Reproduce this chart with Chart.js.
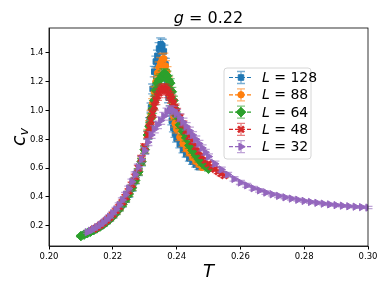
<!DOCTYPE html>
<html>
<head>
<meta charset="utf-8">
<script src="https://cdn.jsdelivr.net/npm/chart.js@4.4.1/dist/chart.umd.min.js"></script>
<style>
  body { margin: 0; background: #fff; }
  canvas { display: block; }
</style>
</head>
<body>
<canvas id="cv" width="386" height="290"></canvas>
<script>
// specific heat c_v vs T for several lattice sizes, g = 0.22
var t128 = [0.211,0.212,0.213,0.214,0.215,0.216,0.217,0.218,0.219,0.220,0.221,0.222,0.223,0.224,0.225,0.226,0.227,0.228,0.229,0.230,
  0.231,0.2315,0.232,0.2325,0.233,0.2335,0.234,0.2345,0.235,0.2355,0.236,0.2365,0.237,0.2375,0.238,0.2385,0.239,0.2395,
  0.240,0.241,0.242,0.243,0.244,0.245,0.246,0.247];
var c128 = [0.138,0.148,0.158,0.169,0.182,0.195,0.210,0.227,0.246,0.268,0.292,0.318,0.347,0.380,0.417,0.460,0.510,0.570,0.640,0.725,
  0.830,0.92,1.02,1.15,1.27,1.34,1.38,1.43,1.46,1.45,1.41,1.32,1.20,1.09,1.00,0.93,0.88,0.84,
  0.805,0.765,0.728,0.697,0.668,0.645,0.625,0.607];
var e128 = [0.008,0.008,0.009,0.009,0.010,0.010,0.011,0.012,0.012,0.013,0.014,0.015,0.016,0.017,0.018,0.019,0.020,0.022,0.024,0.026,
  0.028,0.030,0.032,0.034,0.036,0.038,0.040,0.042,0.044,0.045,0.044,0.042,0.040,0.036,0.032,0.030,0.028,0.026,
  0.025,0.024,0.022,0.021,0.020,0.019,0.018,0.017];

var t88 = [0.212,0.213,0.214,0.215,0.216,0.217,0.218,0.219,0.220,0.221,0.222,0.223,0.224,0.225,0.226,0.227,0.228,0.229,0.230,
  0.231,0.2315,0.232,0.2325,0.233,0.2335,0.234,0.2345,0.235,0.2355,0.236,0.2365,0.237,0.2375,0.238,0.2385,0.239,0.2395,
  0.240,0.241,0.242,0.243,0.244,0.245,0.246,0.247,0.248];
var c88 = [0.150,0.160,0.171,0.184,0.197,0.212,0.229,0.248,0.270,0.294,0.320,0.350,0.384,0.421,0.464,0.515,0.575,0.645,0.730,
  0.840,0.90,0.97,1.05,1.13,1.20,1.26,1.30,1.33,1.355,1.36,1.31,1.27,1.20,1.11,1.02,0.96,0.91,
  0.870,0.815,0.772,0.735,0.705,0.675,0.648,0.625,0.605];
var e88 = [0.008,0.009,0.009,0.010,0.010,0.011,0.012,0.012,0.013,0.014,0.015,0.016,0.017,0.018,0.019,0.020,0.022,0.024,0.026,
  0.028,0.029,0.030,0.032,0.034,0.035,0.036,0.037,0.038,0.038,0.038,0.036,0.035,0.033,0.031,0.029,0.027,0.026,
  0.025,0.024,0.022,0.021,0.020,0.019,0.018,0.017,0.016];

var t64 = [0.210,0.211,0.212,0.213,0.214,0.215,0.216,0.217,0.218,0.219,0.220,0.221,0.222,0.223,0.224,0.225,0.226,0.227,0.228,0.229,0.230,
  0.231,0.2315,0.232,0.2325,0.233,0.2335,0.234,0.2345,0.235,0.2355,0.236,0.2365,0.237,0.2375,0.238,0.2385,0.239,0.2395,
  0.240,0.241,0.242,0.243,0.244,0.245,0.246,0.247,0.248,0.249,0.250];
var c64 = [0.128,0.138,0.148,0.158,0.169,0.181,0.194,0.209,0.226,0.245,0.267,0.291,0.318,0.348,0.382,0.420,0.463,0.514,0.574,0.644,0.728,
  0.830,0.89,0.95,1.01,1.07,1.14,1.19,1.21,1.22,1.24,1.255,1.25,1.24,1.21,1.19,1.13,1.07,1.01,
  0.965,0.900,0.855,0.810,0.758,0.722,0.690,0.660,0.635,0.615,0.595];
var e64 = [0.007,0.008,0.008,0.009,0.009,0.010,0.010,0.011,0.012,0.012,0.013,0.014,0.015,0.016,0.017,0.018,0.019,0.020,0.022,0.024,0.026,
  0.027,0.028,0.029,0.030,0.031,0.032,0.033,0.034,0.034,0.035,0.035,0.035,0.034,0.033,0.032,0.030,0.029,0.027,
  0.026,0.025,0.024,0.022,0.021,0.020,0.019,0.018,0.017,0.016,0.016];

var t48 = [0.214,0.215,0.216,0.217,0.218,0.219,0.220,0.221,0.222,0.223,0.224,0.225,0.226,0.227,0.228,0.229,0.230,
  0.231,0.2315,0.232,0.2325,0.233,0.2335,0.234,0.2345,0.235,0.2355,0.236,0.2365,0.237,0.2375,0.238,0.2385,0.239,0.2395,
  0.240,0.241,0.242,0.243,0.244,0.245,0.246,0.247,0.248,0.249,0.250,0.251,0.252,0.253,0.254,0.255];
var c48 = [0.176,0.189,0.203,0.219,0.237,0.257,0.279,0.304,0.332,0.364,0.400,0.440,0.486,0.540,0.600,0.668,0.748,
  0.830,0.88,0.93,0.98,1.03,1.07,1.10,1.12,1.14,1.15,1.155,1.15,1.14,1.12,1.10,1.08,1.05,1.02,
  0.990,0.950,0.905,0.862,0.822,0.785,0.750,0.715,0.685,0.655,0.630,0.610,0.592,0.576,0.561,0.548];
var e48 = [0.008,0.009,0.009,0.010,0.010,0.011,0.012,0.013,0.013,0.014,0.015,0.016,0.017,0.018,0.019,0.020,0.022,
  0.024,0.025,0.026,0.027,0.028,0.029,0.030,0.030,0.031,0.031,0.031,0.031,0.030,0.030,0.029,0.028,0.027,0.026,
  0.025,0.024,0.023,0.022,0.021,0.020,0.019,0.018,0.017,0.017,0.016,0.016,0.015,0.015,0.014,0.014];

var t32 = [0.212,0.213,0.214,0.215,0.216,0.217,0.218,0.219,0.220,0.221,0.222,0.223,0.224,0.225,0.226,0.227,0.228,0.229,0.230,
  0.231,0.232,0.233,0.234,0.235,0.236,0.237,0.238,0.239,0.240,0.241,0.242,0.243,0.244,0.245,0.246,0.247,0.248,0.249,0.250,
  0.252,0.254,0.256,0.258,0.260,0.262,0.264,0.266,0.268,0.270,0.272,0.274,0.276,0.278,0.280,
  0.282,0.284,0.286,0.288,0.290,0.292,0.294,0.296,0.298,0.300];
var c32 = [0.155,0.165,0.177,0.190,0.205,0.222,0.242,0.263,0.287,0.314,0.344,0.378,0.416,0.458,0.505,0.555,0.607,0.660,0.720,
  0.780,0.830,0.870,0.900,0.930,0.960,0.990,1.005,1.000,0.980,0.950,0.920,0.890,0.860,0.830,0.800,0.770,0.740,0.710,0.680,
  0.630,0.590,0.555,0.525,0.500,0.480,0.460,0.445,0.430,0.418,0.407,0.397,0.388,0.380,0.372,
  0.365,0.359,0.353,0.348,0.343,0.339,0.335,0.332,0.329,0.326];
var e32 = [0.008,0.008,0.009,0.009,0.010,0.010,0.011,0.012,0.012,0.013,0.014,0.015,0.016,0.017,0.018,0.019,0.020,0.021,0.022,
  0.023,0.024,0.025,0.026,0.026,0.027,0.027,0.028,0.028,0.028,0.027,0.027,0.026,0.025,0.024,0.023,0.022,0.021,0.020,0.019,
  0.018,0.017,0.016,0.015,0.014,0.013,0.013,0.012,0.012,0.011,0.011,0.010,0.010,0.010,0.009,
  0.009,0.009,0.009,0.008,0.008,0.008,0.008,0.008,0.008,0.008];

var xTicks = [0.20, 0.22, 0.24, 0.26, 0.28, 0.30];
var yTicks = [0.2, 0.4, 0.6, 0.8, 1.0, 1.2, 1.4];

var FONT = "'DejaVu Sans', sans-serif";

function pts(t, c) {
  var out = [];
  for (var i = 0; i < t.length; i++) out.push({ x: t[i], y: c[i] });
  return out;
}

function series(label, t, c, e, color, style, radius, rot, bw) {
  return {
    label: label,
    data: pts(t, c),
    errors: e,
    showLine: true,
    borderColor: color,
    backgroundColor: color,
    borderWidth: 1.2,
    borderDash: [4, 2],
    pointStyle: style,
    pointRadius: radius,
    pointRotation: rot,
    pointBorderWidth: bw,
    pointBackgroundColor: color,
    pointBorderColor: color
  };
}

// purple first so it ends up on top, like the last plotted line in the original
var datasets = [
  series('32', t32, c32, e32, '#9467bd', 'triangle', 4.2, 90, 1),
  series('48', t48, c48, e48, '#d62728', 'crossRot', 4.2, 0, 2.6),
  series('64', t64, c64, e64, '#2ca02c', 'rectRot', 4.8, 0, 1),
  series('88', t88, c88, e88, '#ff7f0e', 'circle', 3.2, 0, 1),
  series('128', t128, c128, e128, '#1f77b4', 'rect', 3.9, 0, 1)
];

function drawErr(ctx, x, yTop, yBot, color, cap) {
  ctx.save();
  ctx.globalAlpha = 0.6;
  ctx.strokeStyle = color;
  ctx.lineWidth = 1.3;
  ctx.setLineDash([]);
  ctx.beginPath();
  ctx.moveTo(x, yTop); ctx.lineTo(x, yBot);
  ctx.moveTo(x - cap, yTop); ctx.lineTo(x + cap, yTop);
  ctx.moveTo(x - cap, yBot); ctx.lineTo(x + cap, yBot);
  ctx.stroke();
  ctx.restore();
}

var errorBars = {
  id: 'errorBars',
  beforeDatasetDraw: function (chart, args) {
    var ds = chart.data.datasets[args.index];
    var ys = chart.scales.y;
    var ctx = chart.ctx;
    args.meta.data.forEach(function (p, j) {
      var v = ds.data[j].y, e = ds.errors[j];
      drawErr(ctx, p.x, ys.getPixelForValue(v + e), ys.getPixelForValue(v - e), ds.borderColor, 4.5);
    });
  }
};

var decorations = {
  id: 'decorations',
  afterDraw: function (chart) {
    var ctx = chart.ctx, a = chart.chartArea;
    ctx.save();
    // frame
    ctx.strokeStyle = '#000';
    ctx.lineWidth = 0.8;
    ctx.strokeRect(a.left, a.top, a.right - a.left, a.bottom - a.top);

    var cx = (a.left + a.right) / 2;
    ctx.fillStyle = '#000';
    ctx.textBaseline = 'alphabetic';

    // title: g = 0.22
    ctx.font = 'italic 16px ' + FONT;
    var w1 = ctx.measureText('g').width;
    ctx.font = '16px ' + FONT;
    var rest = ' = 0.22';
    var w2 = ctx.measureText(rest).width;
    var x0 = cx - (w1 + w2) / 2;
    ctx.font = 'italic 16px ' + FONT;
    ctx.fillText('g', x0, 23);
    ctx.font = '16px ' + FONT;
    ctx.fillText(rest, x0 + w1, 23);

    // x label
    ctx.font = 'italic 18px ' + FONT;
    ctx.textAlign = 'center';
    ctx.fillText('T', cx, 277);

    // y label c_v
    ctx.save();
    ctx.translate(25, (a.top + a.bottom) / 2);
    ctx.rotate(-Math.PI / 2);
    ctx.textAlign = 'left';
    ctx.font = 'italic 19px ' + FONT;
    var wc = ctx.measureText('c').width;
    ctx.font = 'italic 13px ' + FONT;
    var wv = ctx.measureText('v').width;
    var sx = -(wc + wv) / 2;
    ctx.font = 'italic 19px ' + FONT;
    ctx.fillText('c', sx, 0);
    ctx.font = 'italic 13px ' + FONT;
    ctx.fillText('v', sx + wc, 3);
    ctx.restore();

    // legend
    var lx = 224, ly = 68, lw = 87, lh = 91;
    ctx.beginPath();
    ctx.roundRect(lx, ly, lw, lh, 3);
    ctx.fillStyle = 'rgba(255,255,255,0.8)';
    ctx.fill();
    ctx.strokeStyle = '#d6d6d6';
    ctx.lineWidth = 1;
    ctx.stroke();

    var order = [4, 3, 2, 1, 0];
    order.forEach(function (di, k) {
      var ds = chart.data.datasets[di];
      var y = 77.5 + k * 17.3;
      ctx.save();
      ctx.strokeStyle = ds.borderColor;
      ctx.lineWidth = 1.2;
      ctx.setLineDash([4, 2]);
      ctx.beginPath();
      ctx.moveTo(229, y); ctx.lineTo(253, y);
      ctx.stroke();
      ctx.restore();
      drawErr(ctx, 241, y - 6, y + 6, ds.borderColor, 4);
      ctx.save();
      ctx.fillStyle = ds.borderColor;
      ctx.strokeStyle = ds.borderColor;
      ctx.lineWidth = ds.pointBorderWidth;
      Chart.helpers.drawPoint(ctx, {
        pointStyle: ds.pointStyle, rotation: ds.pointRotation,
        radius: ds.pointRadius, borderWidth: ds.pointBorderWidth
      }, 241, y);
      ctx.restore();

      ctx.fillStyle = '#000';
      ctx.textAlign = 'left';
      ctx.textBaseline = 'middle';
      ctx.font = 'italic 14px ' + FONT;
      var wl = ctx.measureText('L').width;
      ctx.fillText('L', 262, y + 1);
      ctx.font = '14px ' + FONT;
      ctx.fillText(' = ' + ds.label, 262 + wl, y + 1);
    });
    ctx.restore();
  }
};

window.onload = function () {
  var ctx = document.getElementById('cv').getContext('2d');
  window.cvChart = new Chart(ctx, {
    type: 'scatter',
    data: { datasets: datasets },
    options: {
      responsive: false,
      devicePixelRatio: 1,
      animation: false,
      layout: { padding: { top: 28, right: 18, left: 0, bottom: 0 } },
      plugins: {
        legend: { display: false },
        tooltip: { enabled: false },
        title: { display: false }
      },
      scales: {
        x: {
          type: 'linear',
          min: 0.2,
          max: 0.3,
          afterBuildTicks: function (s) { s.ticks = xTicks.map(function (v) { return { value: v }; }); },
          afterFit: function (s) { s.height = 44; },
          grid: { drawOnChartArea: false, drawTicks: true, tickLength: 3.5, tickColor: '#000' },
          border: { display: true, color: '#000', width: 0.8 },
          ticks: {
            color: '#000',
            padding: 2,
            maxRotation: 0,
            font: { family: FONT, size: 8.5 },
            callback: function (v) { return v.toFixed(2); }
          }
        },
        y: {
          type: 'linear',
          min: 0.059,
          max: 1.573,
          afterBuildTicks: function (s) { s.ticks = yTicks.map(function (v) { return { value: v }; }); },
          afterFit: function (s) { s.width = 49; },
          grid: { drawOnChartArea: false, drawTicks: true, tickLength: 3.5, tickColor: '#000' },
          border: { display: true, color: '#000', width: 0.8 },
          ticks: {
            color: '#000',
            padding: 2,
            font: { family: FONT, size: 8.5 },
            callback: function (v) { return v.toFixed(1); }
          }
        }
      }
    },
    plugins: [errorBars, decorations]
  });
};
</script>
</body>
</html>
